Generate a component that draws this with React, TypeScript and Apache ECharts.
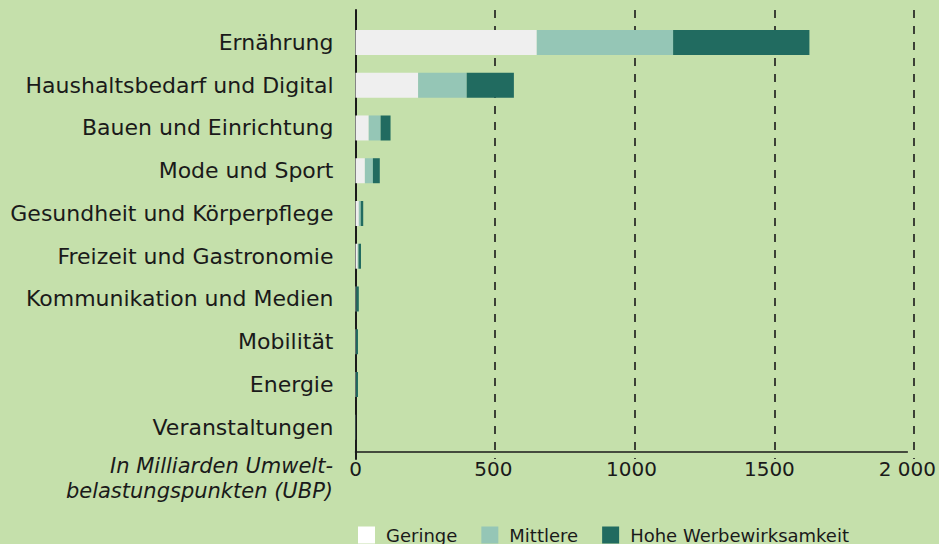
import React, { useEffect, useRef } from "react";
import * as echarts from "echarts";

const categories = [
  "Ernährung",
  "Haushaltsbedarf und Digital",
  "Bauen und Einrichtung",
  "Mode und Sport",
  "Gesundheit und Körperpflege",
  "Freizeit und Gastronomie",
  "Kommunikation und Medien",
  "Mobilität",
  "Energie",
  "Veranstaltungen",
];
const seriesNames = ["Geringe", "Mittlere", "Hohe Werbewirksamkeit"];
const geringe = [657, 227, 48, 34, 12, 8, 1, 1, 1, 0.5];
const mittlere = [494, 176, 43, 29, 7, 3, 2, 1, 1, 0.3];
const hohe = [494, 171, 36, 25, 9, 9, 9, 7, 7, 0.5];
const xTickLabels = ["0", "500", "1000", "1500", "2 000"];
const axisNote = "In Milliarden Umwelt-\nbelastungspunkten (UBP)";

const BG = "#c5e0ab";
const TXT = "#1a1a1a";
const FONT = "'DejaVu Sans', sans-serif";
const colors = ["#efefef", "#95c6b6", "#216b60"];
const legendColors = ["#ffffff", "#95c6b6", "#216b60"];

export default function App() {
  const ref = useRef<HTMLDivElement>(null);
  useEffect(() => {
    if (!ref.current) return;
    const chart = echarts.init(ref.current, null, { renderer: "svg" });
    const values = [geringe, mittlere, hohe];
    chart.setOption({
      animation: false,
      backgroundColor: BG,
      textStyle: { fontFamily: FONT, color: TXT },
      grid: [
        { left: 355.5, right: 24.8, top: 21.1, bottom: 544 - 448.6 },
        { left: 355.5, right: 24.8, top: 10, bottom: 544 - 459 },
      ],
      xAxis: [
        {
          type: "value",
          gridIndex: 0,
          min: 0,
          max: 2000,
          interval: 500,
          offset: 3.4,
          axisLine: { show: true, lineStyle: { color: TXT, width: 1.5 } },
          axisTick: { show: false },
          splitLine: { show: false },
          axisLabel: {
            color: TXT,
            fontSize: 20,
            fontFamily: FONT,
            margin: 7,
            formatter: (v: number) => xTickLabels[Math.round(v / 500)] ?? String(v),
          },
        },
        {
          type: "value",
          gridIndex: 1,
          min: 0,
          max: 2000,
          interval: 500,
          axisLine: { show: false },
          axisTick: { show: false },
          axisLabel: { show: false },
          splitLine: {
            show: true,
            lineStyle: { color: TXT, width: 1.6, type: [8, 8] },
          },
        },
      ],
      yAxis: [
        {
          type: "category",
          gridIndex: 0,
          data: categories,
          inverse: true,
          axisLine: { show: false },
          axisTick: { show: false },
          axisLabel: {
            color: TXT,
            fontSize: 22,
            fontFamily: FONT,
            margin: 22,
          },
        },
        {
          type: "value",
          gridIndex: 1,
          min: 0,
          max: 1,
          axisLine: { show: true, onZero: false, lineStyle: { color: TXT, width: 2 } },
          axisTick: { show: false },
          axisLabel: { show: false },
          splitLine: { show: false },
        },
      ],
      legend: {
        left: 353,
        top: 521,
        itemWidth: 17,
        itemHeight: 17,
        itemGap: 24,
        icon: "rect",
        textStyle: { color: TXT, fontSize: 18, fontFamily: FONT, padding: [0, 0, 0, 6] },
        data: seriesNames.map((n, i) => ({
          name: n,
          itemStyle: { color: legendColors[i] },
        })),
      },
      graphic: [
        {
          type: "text",
          right: 939 - 333,
          top: 453,
          style: {
            text: axisNote,
            font: `italic 21px ${FONT}`,
            fill: TXT,
            textAlign: "right",
            lineHeight: 25,
          },
        },
      ],
      series: seriesNames.map((n, i) => ({
        name: n,
        type: "bar",
        stack: "total",
        xAxisIndex: 0,
        yAxisIndex: 0,
        barWidth: 25,
        itemStyle: { color: colors[i] },
        data: values[i],
      })),
    });
    return () => chart.dispose();
  }, []);
  return <div ref={ref} style={{ width: 939, height: 544, position: "absolute", left: 0, top: 0 }} />;
}
